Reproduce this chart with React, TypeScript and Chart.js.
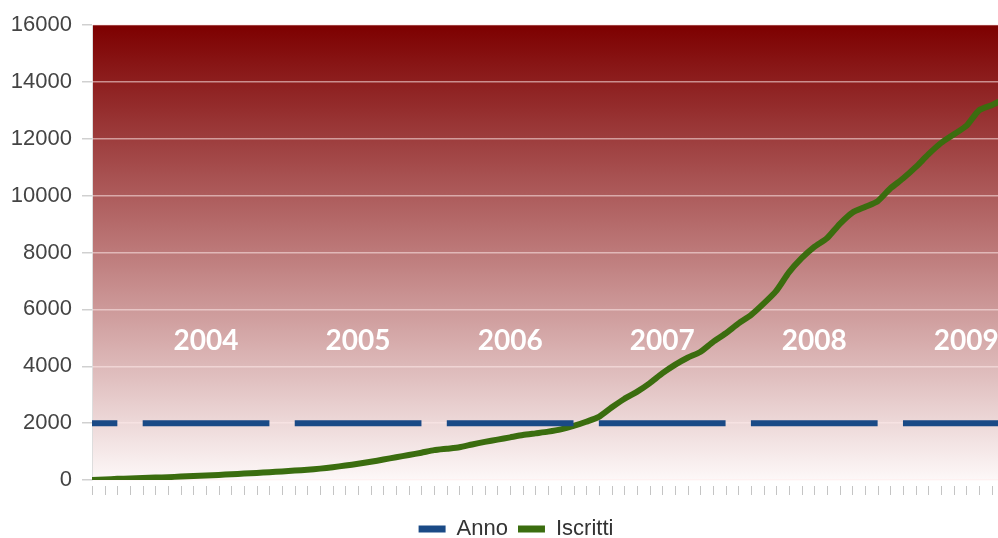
import React, { useEffect, useRef } from 'react';
import { Chart, registerables } from 'chart.js';

Chart.register(...registerables);

// Monthly index (0 = first month shown)
const iscritti: number[] = [
  0, 20, 40, 55, 70, 85, 100, 120, 140, 160, 180, 200,
  225, 250, 275, 300, 330, 360, 400, 450, 510, 570, 640, 720,
  800, 880, 960, 1050, 1100, 1150, 1250, 1340, 1420, 1500, 1580, 1640,
  1700, 1780, 1900, 2050, 2220, 2550, 2850, 3100, 3400, 3750, 4050, 4300,
  4500, 4850, 5150, 5500, 5800, 6200, 6650, 7300, 7800, 8200, 8500, 9000,
  9400, 9600, 9800, 10250, 10600, 11000, 11450, 11850, 12150, 12450, 13000, 13180,
  13400,
];

const anno: (number | null)[] = [
  2000, 2000, 2000, null,
  2000, 2000, 2000, 2000, 2000, 2000, 2000, 2000, 2000, 2000, 2000, null,
  2000, 2000, 2000, 2000, 2000, 2000, 2000, 2000, 2000, 2000, 2000, null,
  2000, 2000, 2000, 2000, 2000, 2000, 2000, 2000, 2000, 2000, 2000, null,
  2000, 2000, 2000, 2000, 2000, 2000, 2000, 2000, 2000, 2000, 2000, null,
  2000, 2000, 2000, 2000, 2000, 2000, 2000, 2000, 2000, 2000, 2000, null,
  2000, 2000, 2000, 2000, 2000, 2000, 2000, 2000, 2000,
];

const yearLabels: string[] = ['2004', '2005', '2006', '2007', '2008', '2009'];
const yearLabelIndex: number[] = [9, 21, 33, 45, 57, 69];
const yearLabelValue = 4900;

const xMin = 0;
const xMax = 71.5;
const yMin = 0;
const yMax = 16000;
const yStep = 2000;

export default function App() {
  const ref = useRef<HTMLCanvasElement>(null);

  useEffect(() => {
    if (!ref.current) return;

    const bgPlugin = {
      id: 'bgGradient',
      beforeDraw(chart: any) {
        const { ctx, chartArea: a } = chart;
        const g = ctx.createLinearGradient(0, a.top, 0, a.bottom);
        g.addColorStop(0, '#7d0000');
        g.addColorStop(0.5, '#bd7a7a');
        g.addColorStop(1, '#fdf8f8');
        ctx.save();
        ctx.fillStyle = g;
        ctx.fillRect(a.left, a.top, a.right - a.left, a.bottom - a.top);
        ctx.restore();
      },
    };

    const minorTicksPlugin = {
      id: 'minorTicks',
      afterDraw(chart: any) {
        const { ctx, chartArea: a } = chart;
        const xs = chart.scales.x;
        ctx.save();
        ctx.strokeStyle = '#c4c4c4';
        ctx.lineWidth = 1;
        for (let i = Math.ceil(xs.min); i <= xs.max; i++) {
          const px = Math.round(xs.getPixelForValue(i)) + 0.5;
          ctx.beginPath();
          ctx.moveTo(px, a.bottom + 6);
          ctx.lineTo(px, a.bottom + 15);
          ctx.stroke();
        }
        ctx.restore();
      },
    };

    const yearPlugin = {
      id: 'yearLabels',
      afterDatasetsDraw(chart: any) {
        const { ctx } = chart;
        const xs = chart.scales.x;
        const ys = chart.scales.y;
        ctx.save();
        ctx.fillStyle = '#ffffff';
        ctx.font = 'bold 28px Lato, "Open Sans", sans-serif';
        ctx.textAlign = 'center';
        ctx.textBaseline = 'middle';
        yearLabels.forEach((t, k) => {
          ctx.fillText(t, xs.getPixelForValue(yearLabelIndex[k]), ys.getPixelForValue(yearLabelValue));
        });
        ctx.restore();
      },
    };

    // shift the legend so it is centred like the original (slightly right of canvas centre)
    const legendShiftPlugin = {
      id: 'legendShift',
      afterLayout(chart: any) {
        const lg = chart.legend;
        if (lg) {
          lg.left += 34;
        }
      },
    };

    const chart = new Chart(ref.current, {
      type: 'line',
      data: {
        datasets: [
          {
            label: 'Anno',
            data: anno.map((v, i) => ({ x: i, y: v })),
            borderColor: '#1a4a86',
            backgroundColor: '#1a4a86',
            borderWidth: 6,
            borderCapStyle: 'butt',
            pointRadius: 0,
            spanGaps: false,
          } as any,
          {
            label: 'Iscritti',
            data: iscritti.map((v, i) => ({ x: i, y: v })),
            borderColor: '#3b6d0f',
            backgroundColor: '#3b6d0f',
            borderWidth: 6,
            pointRadius: 0,
            tension: 0.2,
          } as any,
        ],
      },
      options: {
        animation: false,
        responsive: true,
        maintainAspectRatio: false,
        layout: { padding: { left: 0, top: 25, right: 0, bottom: -12 } },
        scales: {
          x: {
            type: 'linear',
            min: xMin,
            max: xMax,
            ticks: { display: false },
            grid: { display: false },
            border: { display: false },
            afterFit: (s: any) => { s.height = 28; },
          },
          y: {
            min: yMin,
            max: yMax,
            ticks: {
              stepSize: yStep,
              color: '#444444',
              padding: 10,
              font: { family: '"Liberation Sans", Arial, sans-serif', size: 22 },
              callback: (v: any) => String(v),
            },
            grid: {
              color: 'rgba(255,235,235,0.55)',
              lineWidth: 1.5,
              tickLength: 10,
              tickColor: '#d0d0d0',
            },
            border: { display: true, color: '#dddddd', width: 1 },
            afterFit: (s: any) => { s.width = 92; },
          },
        },
        plugins: {
          legend: {
            position: 'bottom',
            labels: {
              color: '#333333',
              boxWidth: 27,
              boxHeight: 7,
              padding: 10,
              font: { family: '"Liberation Sans", Arial, sans-serif', size: 22 },
              generateLabels: (c: any) =>
                Chart.defaults.plugins.legend.labels.generateLabels(c).map((l: any) => ({ ...l, lineWidth: 0 })),
            },
          },
          tooltip: { enabled: false },
        },
      },
      plugins: [bgPlugin, minorTicksPlugin, yearPlugin, legendShiftPlugin],
    });

    return () => chart.destroy();
  }, []);

  return (
    <div style={{ position: 'absolute', left: 0, top: 0, width: 998, height: 538 }}>
      <canvas ref={ref} />
    </div>
  );
}
